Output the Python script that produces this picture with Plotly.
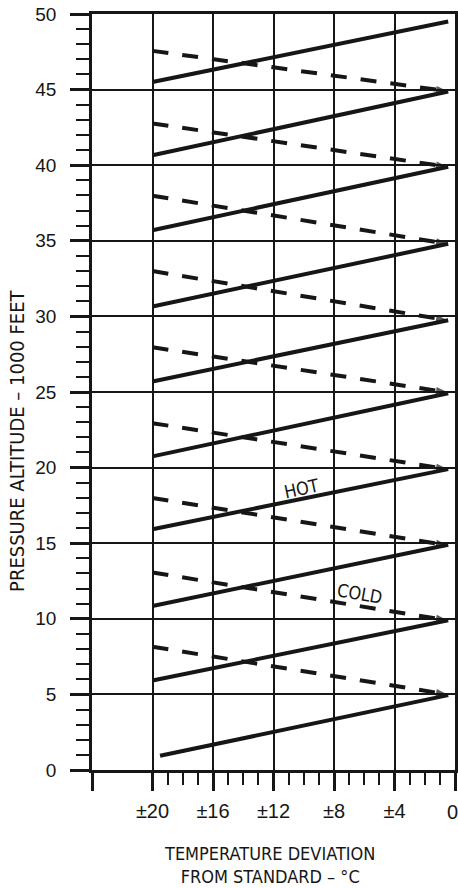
import plotly.graph_objects as go

# ---- data ----
x_tickvals = [24, 20, 16, 12, 8, 4, 0]
x_ticktext = ["", "±20", "±16", "±12", "±8", "±4", ""]
x_end_label = "0"
x_minor_vals = [v for v in range(1, 20) if v % 4 != 0]
y_tickvals = [0, 5, 10, 15, 20, 25, 30, 35, 40, 45, 50]

# HOT (solid) lines: start at ±20 side, end at 0 side
hot_start_x = [19.5, 20, 20, 20, 20, 20, 20, 20, 20, 20]
hot_start_y = [0.94, 5.92, 10.85, 15.92, 20.74, 25.7, 30.66, 35.7, 40.66, 45.5]
hot_end_x = [0.45, 0.45, 0.45, 0.45, 0.45, 0.45, 0.45, 0.45, 0.45, 0.45]
hot_end_y = [4.95, 9.9, 14.9, 19.9, 24.92, 29.75, 34.8, 39.9, 44.87, 49.5]

# COLD (dashed) lines
cold_start_x = [20, 20, 20, 20, 20, 20, 20, 20, 20]
cold_start_y = [8.15, 13.06, 17.99, 22.94, 27.96, 33.0, 37.98, 42.76, 47.56]
cold_end_x = [0.5, 0.5, 0.5, 0.5, 0.5, 0.5, 0.5, 0.5, 0.5]
cold_end_y = [5.0, 9.9, 14.86, 19.9, 24.98, 29.75, 34.8, 39.9, 44.9]

INK = "#161616"
NARROW = "Liberation Sans Narrow, DejaVu Sans Condensed, Arial Narrow, sans-serif"
REG = "Liberation Sans, Arial, sans-serif"

fig = go.Figure()

for xs, ys, xe, ye in zip(cold_start_x, cold_start_y, cold_end_x, cold_end_y):
    fig.add_trace(go.Scatter(
        x=[xs, xe], y=[ys, ye], mode="lines+markers",
        line=dict(color=INK, width=4, dash="16px,14px"),
        marker=dict(symbol="arrow", size=[0, 12], color=INK, angleref="previous",
                    line=dict(width=0)),
        showlegend=False, hoverinfo="skip", cliponaxis=False))

for xs, ys, xe, ye in zip(hot_start_x, hot_start_y, hot_end_x, hot_end_y):
    fig.add_trace(go.Scatter(
        x=[xs, xe], y=[ys, ye], mode="lines",
        line=dict(color=INK, width=4),
        showlegend=False, hoverinfo="skip", cliponaxis=False))

fig.add_annotation(x=10.15, y=18.6, text="HOT", showarrow=False, textangle=-12,
                   font=dict(family=NARROW, size=18, color=INK))
fig.add_annotation(x=6.3, y=11.66, text="COLD", showarrow=False, textangle=10,
                   font=dict(family=NARROW, size=18, color=INK))

# end tick label "0" (kept inside the page edge)
fig.add_annotation(x=0, xref="x", yref="paper", y=-0.0562, yanchor="middle",
                   xanchor="center", xshift=-3, text=x_end_label, showarrow=False,
                   font=dict(family=REG, size=20, color=INK))

# axis titles
fig.add_annotation(xref="paper", yref="paper", x=0.49, y=-0.126,
                   text="TEMPERATURE DEVIATION<br>FROM STANDARD – °C",
                   showarrow=False, yanchor="middle", align="center",
                   font=dict(family=NARROW, size=18, color=INK))
fig.add_annotation(xref="paper", yref="y", x=-0.205, y=21.8, xanchor="center",
                   text="PRESSURE ALTITUDE – 1000 FEET", showarrow=False,
                   textangle=-90, font=dict(family=NARROW, size=20, color=INK))

fig.update_xaxes(
    range=[24, 0], autorange=False, automargin=False,
    tickmode="array", tickvals=x_tickvals, ticktext=x_ticktext,
    ticks="outside", ticklen=18, tickwidth=2.5, tickcolor=INK,
    ticklabelstandoff=3,
    showgrid=True, gridcolor=INK, gridwidth=2,
    showline=True, linecolor=INK, linewidth=2.5, mirror=True,
    zeroline=False,
    minor=dict(tickmode="array", tickvals=x_minor_vals, ticks="outside",
               ticklen=12, tickwidth=2, tickcolor=INK, showgrid=False),
    tickfont=dict(family=REG, size=20, color=INK),
)
fig.update_yaxes(
    range=[0, 50], autorange=False, automargin=False,
    tickmode="array", tickvals=y_tickvals,
    ticks="outside", ticklen=19, tickwidth=2.5, tickcolor=INK,
    ticklabelstandoff=10,
    showgrid=True, gridcolor=INK, gridwidth=2,
    showline=True, linecolor=INK, linewidth=2.5, mirror=True,
    zeroline=False,
    minor=dict(dtick=1, tick0=0, ticks="outside", ticklen=13, tickwidth=2,
               tickcolor=INK, showgrid=False),
    tickfont=dict(family=REG, size=19, color=INK),
)

fig.update_layout(
    width=458, height=888,
    margin=dict(l=92, r=3, t=14, b=118),
    paper_bgcolor="white", plot_bgcolor="white",
)

fig.write_html(
    "out.html",
    config={"displayModeBar": False},
    post_script="document.body.style.margin='0';document.body.style.overflow='hidden';",
)
